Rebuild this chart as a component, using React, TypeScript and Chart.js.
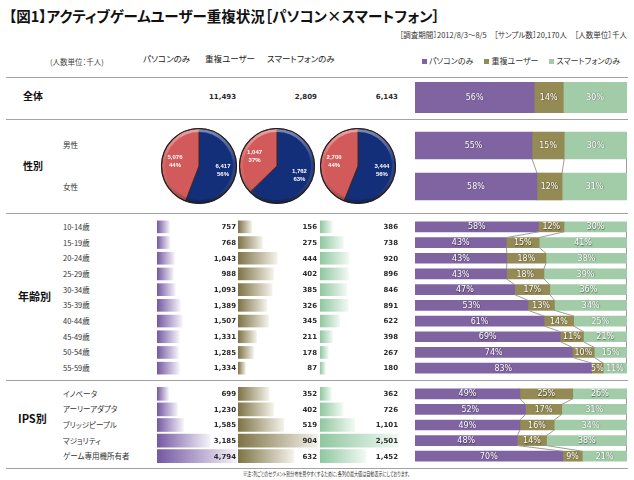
import React, { useEffect, useRef } from "react";
import { Chart, registerables } from "chart.js";

Chart.register(...registerables);

// ---------------- data ----------------
const seriesNames = ["パソコンのみ", "重複ユーザー", "スマートフォンのみ"];

// 全体
const totalCounts = [11493, 2809, 6143];
const totalPct = [56, 14, 30];

// 性別
const genderLabels = ["男性", "女性"];
const genderPcCounts = [6417, 5076];
const genderDupCounts = [1762, 1047];
const genderSpCounts = [3444, 2700];
const genderPcPct = [55, 58];
const genderDupPct = [15, 12];
const genderSpPct = [30, 31];
const malePiePct = [56, 63, 56];
const femalePiePct = [44, 37, 44];

// 年齢別
const ageLabels = ["10-14歳", "15-19歳", "20-24歳", "25-29歳", "30-34歳", "35-39歳", "40-44歳", "45-49歳", "50-54歳", "55-59歳"];
const agePc = [757, 768, 1043, 988, 1093, 1389, 1507, 1331, 1285, 1334];
const ageDup = [156, 275, 444, 402, 385, 326, 345, 211, 178, 87];
const ageSp = [386, 738, 920, 896, 846, 891, 622, 398, 267, 180];
const agePcPct = [58, 43, 43, 43, 47, 53, 61, 69, 74, 83];
const ageDupPct = [12, 15, 18, 18, 17, 13, 14, 11, 10, 5];
const ageSpPct = [30, 41, 38, 39, 36, 34, 25, 21, 15, 11];

// IPS別
const ipsLabels = ["イノベータ", "アーリーアダプタ", "ブリッジピープル", "マジョリティ", "ゲーム専用機所有者"];
const ipsPc = [699, 1230, 1585, 3185, 4794];
const ipsDup = [352, 402, 519, 904, 632];
const ipsSp = [362, 726, 1101, 2501, 1452];
const ipsPcPct = [49, 52, 49, 48, 70];
const ipsDupPct = [25, 17, 16, 14, 9];
const ipsSpPct = [26, 31, 34, 38, 21];

// ---------------- styles ----------------
const W = 634;
const H = 480;
const FONT_JP = '"Noto Sans CJK JP", "Noto Sans", sans-serif';
const FONT_NUM = '"DejaVu Sans", sans-serif';
const STACK_COLORS = ["#8064a2", "#948a54", "#a2cba8"];
const GRAD_COLORS = [
  ["#7558a2", "#f5f2f9"],
  ["#7e7346", "#f4f2ea"],
  ["#8fc79f", "#f1f9f3"],
];
const PIE_MALE = "#142f7a";
const PIE_FEMALE = "#d25a5a";

const fmt = (v: number) => v.toLocaleString("en-US");

function toShares(a: number[], b: number[], c: number[]) {
  const t = a.map((v, i) => v + b[i] + c[i]);
  return [a, b, c].map((arr) => arr.map((v, i) => (v / t[i]) * 100));
}

function baseOptions(scales: any) {
  return {
    indexAxis: "y",
    responsive: false,
    maintainAspectRatio: false,
    animation: false,
    events: [],
    layout: { padding: 0 },
    scales,
    plugins: { legend: { display: false }, tooltip: { enabled: false }, title: { display: false } },
  };
}

// ---------------- plugins ----------------
function seriesLinesPlugin(enabled: boolean) {
  return {
    id: "seriesLines",
    afterDatasetsDraw(chart: any) {
      if (!enabled) return;
      const c = chart.ctx;
      const right = chart.chartArea.right - 0.5;
      c.save();
      c.strokeStyle = "#9c9c9c";
      c.lineWidth = 1;
      const metas = [0, 1, 2].map((i) => chart.getDatasetMeta(i));
      const n = metas[0].data.length;
      for (let i = 0; i < n - 1; i++) {
        for (const m of metas) {
          const a = m.data[i];
          const b = m.data[i + 1];
          c.beginPath();
          c.moveTo(Math.min(a.x, right), a.y + a.height / 2);
          c.lineTo(Math.min(b.x, right), b.y - b.height / 2);
          c.stroke();
        }
      }
      c.restore();
    },
  };
}

function pctLabelsPlugin(labels: number[][]) {
  return {
    id: "pctLabels",
    afterDatasetsDraw(chart: any) {
      const c = chart.ctx;
      c.save();
      c.font = `8px ${FONT_NUM}`;
      c.textAlign = "center";
      c.textBaseline = "middle";
      c.fillStyle = "#ffffff";
      c.shadowColor = "rgba(0,0,0,0.55)";
      c.shadowBlur = 1.2;
      c.shadowOffsetX = 0.4;
      c.shadowOffsetY = 0.4;
      labels.forEach((arr, s) => {
        const meta = chart.getDatasetMeta(s);
        arr.forEach((v, i) => {
          const el = meta.data[i];
          c.fillText(`${v}%`, (el.x + el.base) / 2, el.y + 0.5);
        });
      });
      c.restore();
    },
  };
}

function valueLabelsPlugin(values: number[]) {
  return {
    id: "valueLabels",
    afterDatasetsDraw(chart: any) {
      const c = chart.ctx;
      const meta = chart.getDatasetMeta(0);
      c.save();
      c.font = `bold 7px ${FONT_NUM}`;
      c.textAlign = "right";
      c.textBaseline = "middle";
      c.fillStyle = "#2b2b2b";
      values.forEach((v, i) => {
        c.fillText(fmt(v), chart.chartArea.right - 1, meta.data[i].y + 0.5);
      });
      c.restore();
    },
  };
}

function pieDecorPlugin(counts: number[], pcts: number[]) {
  return {
    id: "pieDecor",
    afterDatasetsDraw(chart: any) {
      const c = chart.ctx;
      const meta = chart.getDatasetMeta(0);
      const first = meta.data[0];
      const { x, y, outerRadius: r } = first;
      c.save();
      const g = c.createLinearGradient(0, y - r, 0, y + r);
      g.addColorStop(0, "rgba(255,255,255,0.45)");
      g.addColorStop(0.45, "rgba(255,255,255,0.08)");
      g.addColorStop(1, "rgba(0,0,0,0.3)");
      c.beginPath();
      c.arc(x, y, r - 2, 0, Math.PI * 2);
      c.lineWidth = 3;
      c.strokeStyle = g;
      c.stroke();
      c.beginPath();
      c.arc(x, y, r, 0, Math.PI * 2);
      c.lineWidth = 1.2;
      c.strokeStyle = "rgba(35,25,25,0.85)";
      c.stroke();
      c.font = `bold 6px "Liberation Sans", sans-serif`;
      c.textAlign = "center";
      c.textBaseline = "middle";
      c.fillStyle = "#ffffff";
      meta.data.forEach((el: any, i: number) => {
        const mid = (el.startAngle + el.endAngle) / 2;
        const px = el.x + Math.cos(mid) * el.outerRadius * 0.65;
        const py = el.y + Math.sin(mid) * el.outerRadius * 0.65;
        c.fillText(fmt(counts[i]), px, py - 3.8);
        c.fillText(`${pcts[i]}%`, px, py + 3.8);
      });
      c.restore();
    },
  };
}

// ---------------- configs ----------------
function stackedConfig(rowLabels: string[], counts: number[][], pcts: number[][], thickness: number, lines: boolean) {
  const shares = toShares(counts[0], counts[1], counts[2]);
  return {
    type: "bar",
    data: {
      labels: rowLabels,
      datasets: shares.map((d, i) => ({
        label: seriesNames[i],
        data: d,
        backgroundColor: STACK_COLORS[i],
        borderWidth: 0,
        barThickness: thickness,
      })),
    },
    options: baseOptions({
      x: { stacked: true, min: 0, max: 100, display: false },
      y: { stacked: true, display: false },
    }),
    plugins: [seriesLinesPlugin(lines), pctLabelsPlugin(pcts)],
  };
}

function smallBarConfig(rowLabels: string[], values: number[], colorIdx: number, max: number, thickness: number) {
  const [c0, c1] = GRAD_COLORS[colorIdx];
  return {
    type: "bar",
    data: {
      labels: rowLabels,
      datasets: [
        {
          label: seriesNames[colorIdx],
          data: values,
          borderWidth: 0,
          barThickness: thickness,
          backgroundColor: (ctx: any) => {
            const chart = ctx.chart;
            const area = chart.chartArea;
            if (!area || ctx.raw == null) return c0;
            const end = chart.scales.x.getPixelForValue(ctx.raw);
            const g = chart.ctx.createLinearGradient(area.left, 0, Math.max(end, area.left + 1), 0);
            g.addColorStop(0, c0);
            g.addColorStop(1, c1);
            return g;
          },
        },
      ],
    },
    options: baseOptions({
      x: { min: 0, max, display: false },
      y: { display: false },
    }),
    plugins: [valueLabelsPlugin(values)],
  };
}

function pieConfig(counts: number[], pcts: number[]) {
  return {
    type: "pie",
    data: {
      labels: genderLabels,
      datasets: [
        {
          data: counts,
          backgroundColor: [PIE_MALE, PIE_FEMALE],
          borderColor: "#3a2626",
          borderWidth: 1,
          hoverOffset: 0,
        },
      ],
    },
    options: {
      responsive: false,
      maintainAspectRatio: false,
      animation: false,
      events: [],
      rotation: 0,
      layout: { padding: 1 },
      plugins: { legend: { display: false }, tooltip: { enabled: false } },
    },
    plugins: [pieDecorPlugin(counts, pcts)],
  };
}

// ---------------- components ----------------
function ChartBox({ x, y, w, h, make }: { x: number; y: number; w: number; h: number; make: () => any }) {
  const ref = useRef<HTMLCanvasElement | null>(null);
  useEffect(() => {
    const chart = new Chart(ref.current as HTMLCanvasElement, make());
    return () => chart.destroy();
  }, []);
  return (
    <div style={{ position: "absolute", left: x, top: y, width: w, height: h }}>
      <canvas ref={ref} width={w} height={h} style={{ display: "block", width: w, height: h }} />
    </div>
  );
}

function Txt(props: {
  x: number;
  y: number;
  size: number;
  bold?: boolean;
  align?: "left" | "right";
  color?: string;
  family?: string;
  style?: any;
  children: any;
}) {
  const { x, y, size, bold, align = "left", color = "#262626", family = FONT_JP, style, children } = props;
  const h = Math.round(size * 1.6);
  const s: any = {
    position: "absolute",
    top: y - h / 2,
    height: h,
    lineHeight: `${h}px`,
    fontSize: size,
    fontFamily: family,
    fontWeight: bold ? 700 : 400,
    color,
    whiteSpace: "nowrap",
    ...style,
  };
  if (align === "right") s.right = W - x;
  else s.left = x;
  return <div style={s}>{children}</div>;
}

function HLine({ y }: { y: number }) {
  return <div style={{ position: "absolute", left: 6, top: y, width: 622, height: 1, background: "#a3a3a3" }} />;
}

const AGE_TOP = 219;
const AGE_H = 157;
const IPS_TOP = 386;
const IPS_H = 78;
const COLS = [
  { x: 157, w: 80 },
  { x: 238, w: 80 },
  { x: 320, w: 79 },
];
const PIE_X = [160, 238, 319];

export default function App() {
  const pcMax = Math.max(...agePc, ...ipsPc);
  const dupMax = Math.max(...ageDup, ...ipsDup);
  const spMax = Math.max(...ageSp, ...ipsSp);
  const colMax = [pcMax, dupMax, spMax];
  const ageCols = [agePc, ageDup, ageSp];
  const ipsCols = [ipsPc, ipsDup, ipsSp];
  const ageStep = AGE_H / ageLabels.length;
  const ipsStep = IPS_H / ipsLabels.length;
  const pieCounts = [
    [genderPcCounts[0], genderPcCounts[1]],
    [genderDupCounts[0], genderDupCounts[1]],
    [genderSpCounts[0], genderSpCounts[1]],
  ];

  return (
    <div
      style={{
        position: "absolute",
        left: 0,
        top: 0,
        width: W,
        height: H,
        background: "#ffffff",
        overflow: "hidden",
        fontFeatureSettings: '"palt"',
      }}
    >
      <Txt x={9} y={15} size={14.5} bold color="#111">
        【図1】アクティブゲームユーザー重複状況［パソコン×スマートフォン］
      </Txt>
      <Txt x={627} y={35} size={7.5} align="right" color="#333">
        ［調査期間］2012/8/3～8/5　［サンプル数］20,170人　［人数単位］千人
      </Txt>

      <Txt x={50} y={62} size={7.5} color="#444">(人数単位：千人)</Txt>
      <Txt x={143} y={58} size={8.5} color="#222">{seriesNames[0]}</Txt>
      <Txt x={205} y={58} size={8.5} color="#222">{seriesNames[1]}</Txt>
      <Txt x={267} y={58} size={8.5} color="#222">{seriesNames[2]}</Txt>
      <div
        style={{
          position: "absolute",
          left: 422,
          top: 55,
          height: 12,
          lineHeight: "12px",
          fontSize: 8,
          fontFamily: FONT_JP,
          color: "#333",
          whiteSpace: "nowrap",
          display: "flex",
          alignItems: "center",
        }}
      >
        {seriesNames.map((n, i) => (
          <span key={n} style={{ display: "inline-flex", alignItems: "center", marginRight: i < 2 ? 11 : 0 }}>
            <span style={{ display: "inline-block", width: 5, height: 5, background: STACK_COLORS[i], marginRight: 2 }} />
            {n}
          </span>
        ))}
      </div>

      <HLine y={77} />
      <HLine y={119} />
      <HLine y={213} />
      <HLine y={380} />
      <HLine y={468} />

      {/* 全体 */}
      <Txt x={23} y={96} size={10} bold color="#111">全体</Txt>
      {totalCounts.map((v, i) => (
        <Txt key={i} x={COLS[i].x + COLS[i].w - 1} y={97} size={7} bold align="right" family={FONT_NUM} color="#2b2b2b">
          {fmt(v)}
        </Txt>
      ))}
      <ChartBox
        x={415}
        y={82}
        w={212}
        h={31}
        make={() =>
          stackedConfig(
            ["全体"],
            [[totalCounts[0]], [totalCounts[1]], [totalCounts[2]]],
            [[totalPct[0]], [totalPct[1]], [totalPct[2]]],
            31,
            false
          )
        }
      />

      {/* 性別 */}
      <Txt x={23} y={166} size={10} bold color="#111">性別</Txt>
      <Txt x={63} y={145} size={7.5} color="#333">{genderLabels[0]}</Txt>
      <Txt x={63} y={187} size={7.5} color="#333">{genderLabels[1]}</Txt>
      {PIE_X.map((px, k) => (
        <ChartBox
          key={k}
          x={px}
          y={127}
          w={78}
          h={78}
          make={() => pieConfig(pieCounts[k], [malePiePct[k], femalePiePct[k]])}
        />
      ))}
      <ChartBox
        x={415}
        y={125}
        w={212}
        h={82}
        make={() =>
          stackedConfig(
            genderLabels,
            [genderPcCounts, genderDupCounts, genderSpCounts],
            [genderPcPct, genderDupPct, genderSpPct],
            27,
            true
          )
        }
      />

      {/* 年齢別 */}
      <Txt x={18} y={296} size={11} bold color="#111">年齢別</Txt>
      {ageLabels.map((l, i) => (
        <Txt key={l} x={63} y={AGE_TOP + ageStep * (i + 0.5)} size={7.5} color="#333">
          {l}
        </Txt>
      ))}
      {COLS.map((c, k) => (
        <ChartBox
          key={"age" + k}
          x={c.x}
          y={AGE_TOP}
          w={c.w}
          h={AGE_H}
          make={() => smallBarConfig(ageLabels, ageCols[k], k, colMax[k], 12)}
        />
      ))}
      <ChartBox
        x={415}
        y={AGE_TOP}
        w={212}
        h={AGE_H}
        make={() => stackedConfig(ageLabels, [agePc, ageDup, ageSp], [agePcPct, ageDupPct, ageSpPct], 10, true)}
      />

      {/* IPS別 */}
      <Txt x={18} y={418} size={11} bold color="#111">IPS別</Txt>
      {ipsLabels.map((l, i) => (
        <Txt key={l} x={63} y={IPS_TOP + ipsStep * (i + 0.5)} size={7.5} color="#333">
          {l}
        </Txt>
      ))}
      {COLS.map((c, k) => (
        <ChartBox
          key={"ips" + k}
          x={c.x}
          y={IPS_TOP}
          w={c.w}
          h={IPS_H}
          make={() => smallBarConfig(ipsLabels, ipsCols[k], k, colMax[k], 13)}
        />
      ))}
      <ChartBox
        x={415}
        y={IPS_TOP}
        w={212}
        h={IPS_H}
        make={() => stackedConfig(ipsLabels, [ipsPc, ipsDup, ipsSp], [ipsPcPct, ipsDupPct, ipsSpPct], 10, true)}
      />

      <div
        style={{
          position: "absolute",
          left: 243,
          top: 470,
          fontSize: 6,
          lineHeight: "8px",
          fontFamily: FONT_JP,
          color: "#333",
          whiteSpace: "nowrap",
          transform: "scaleX(0.68)",
          transformOrigin: "left center",
        }}
      >
        ※注：列ごとのセグメント別分布を見やすくするために、各列の最大値は自動表示にしております。
      </div>
    </div>
  );
}
